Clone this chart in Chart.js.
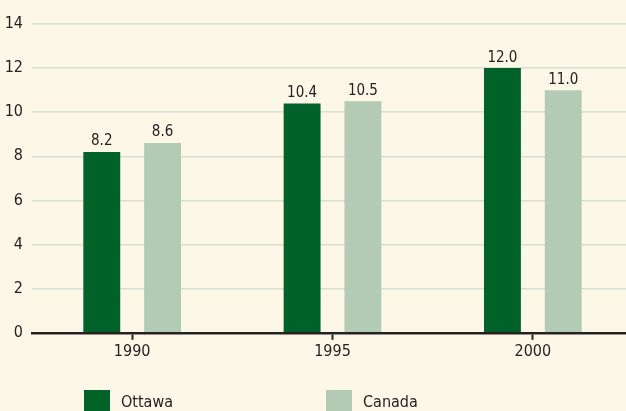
<!DOCTYPE html>
<html>
<head>
<meta charset="utf-8">
<script src="https://cdn.jsdelivr.net/npm/chart.js@4"></script>
<style>
  html, body { margin: 0; padding: 0; background: #fdf7e8; overflow: hidden; }
  #wrap { width: 633px; height: 411px; }
</style>
</head>
<body>
<div id="wrap"><canvas id="chart" width="633" height="411"></canvas></div>
<script>
// Chart data
const years = ['1990', '1995', '2000'];
const ottawa = [8.2, 10.4, 12.0];
const canada = [8.6, 10.5, 11.0];
const yTicks = [0, 2, 4, 6, 8, 10, 12, 14];

const FONT = "'Liberation Sans Narrow', 'DejaVu Sans Condensed', sans-serif";
const TEXT = '#262223';

// value labels above each bar
const valueLabels = {
    id: 'valueLabels',
    afterDatasetsDraw(chart) {
        const ctx = chart.ctx;
        ctx.save();
        ctx.font = '15px ' + FONT;
        ctx.fillStyle = TEXT;
        ctx.textAlign = 'center';
        ctx.textBaseline = 'bottom';
        chart.data.datasets.forEach((ds, i) => {
            chart.getDatasetMeta(i).data.forEach((bar, j) => {
                ctx.fillText(ds.data[j].toFixed(1), bar.x, bar.y - 3);
            });
        });
        ctx.restore();
    }
};

// legend drawn along the bottom edge
const bottomLegend = {
    id: 'bottomLegend',
    afterDraw(chart, args, opts) {
        const ctx = chart.ctx;
        ctx.save();
        ctx.font = '16px ' + FONT;
        ctx.textBaseline = 'middle';
        chart.data.datasets.forEach((ds, i) => {
            const x = opts.startX + i * opts.step;
            ctx.fillStyle = ds.backgroundColor;
            ctx.fillRect(x, opts.top, opts.box, opts.box);
            ctx.fillStyle = TEXT;
            ctx.fillText(ds.label, x + opts.box + 11, opts.top + opts.box / 2);
        });
        ctx.restore();
    }
};

new Chart(document.getElementById('chart'), {
    type: 'bar',
    data: {
        labels: years,
        datasets: [
            { label: 'Ottawa', data: ottawa, backgroundColor: '#006228' },
            { label: 'Canada', data: canada, backgroundColor: '#b3cbb4' }
        ]
    },
    options: {
        responsive: false,
        animation: false,
        devicePixelRatio: 1,
        categoryPercentage: 0.607,
        barPercentage: 0.607,
        layout: { padding: { top: 24, bottom: 48, left: 0, right: 0 } },
        plugins: {
            legend: { display: false },
            tooltip: { enabled: false },
            bottomLegend: { startX: 84, step: 242, top: 390, box: 26 }
        },
        scales: {
            x: {
                grid: {
                    offset: false,
                    drawOnChartArea: false,
                    drawTicks: true,
                    tickLength: 7,
                    tickWidth: 2,
                    tickColor: TEXT
                },
                border: { display: true, color: TEXT, width: 2.5 },
                ticks: { color: TEXT, font: { family: FONT, size: 16 }, padding: 2 }
            },
            y: {
                min: 0,
                max: 14,
                afterBuildTicks(scale) {
                    scale.ticks = yTicks.map(v => ({ value: v }));
                },
                afterFit(scale) {
                    scale.width = 32;
                },
                grid: { color: '#d5e1d2', lineWidth: 1.5, drawTicks: false },
                border: { display: false },
                ticks: { color: TEXT, font: { family: FONT, size: 16 }, padding: 9 }
            }
        }
    },
    plugins: [valueLabels, bottomLegend]
});
</script>
</body>
</html>
